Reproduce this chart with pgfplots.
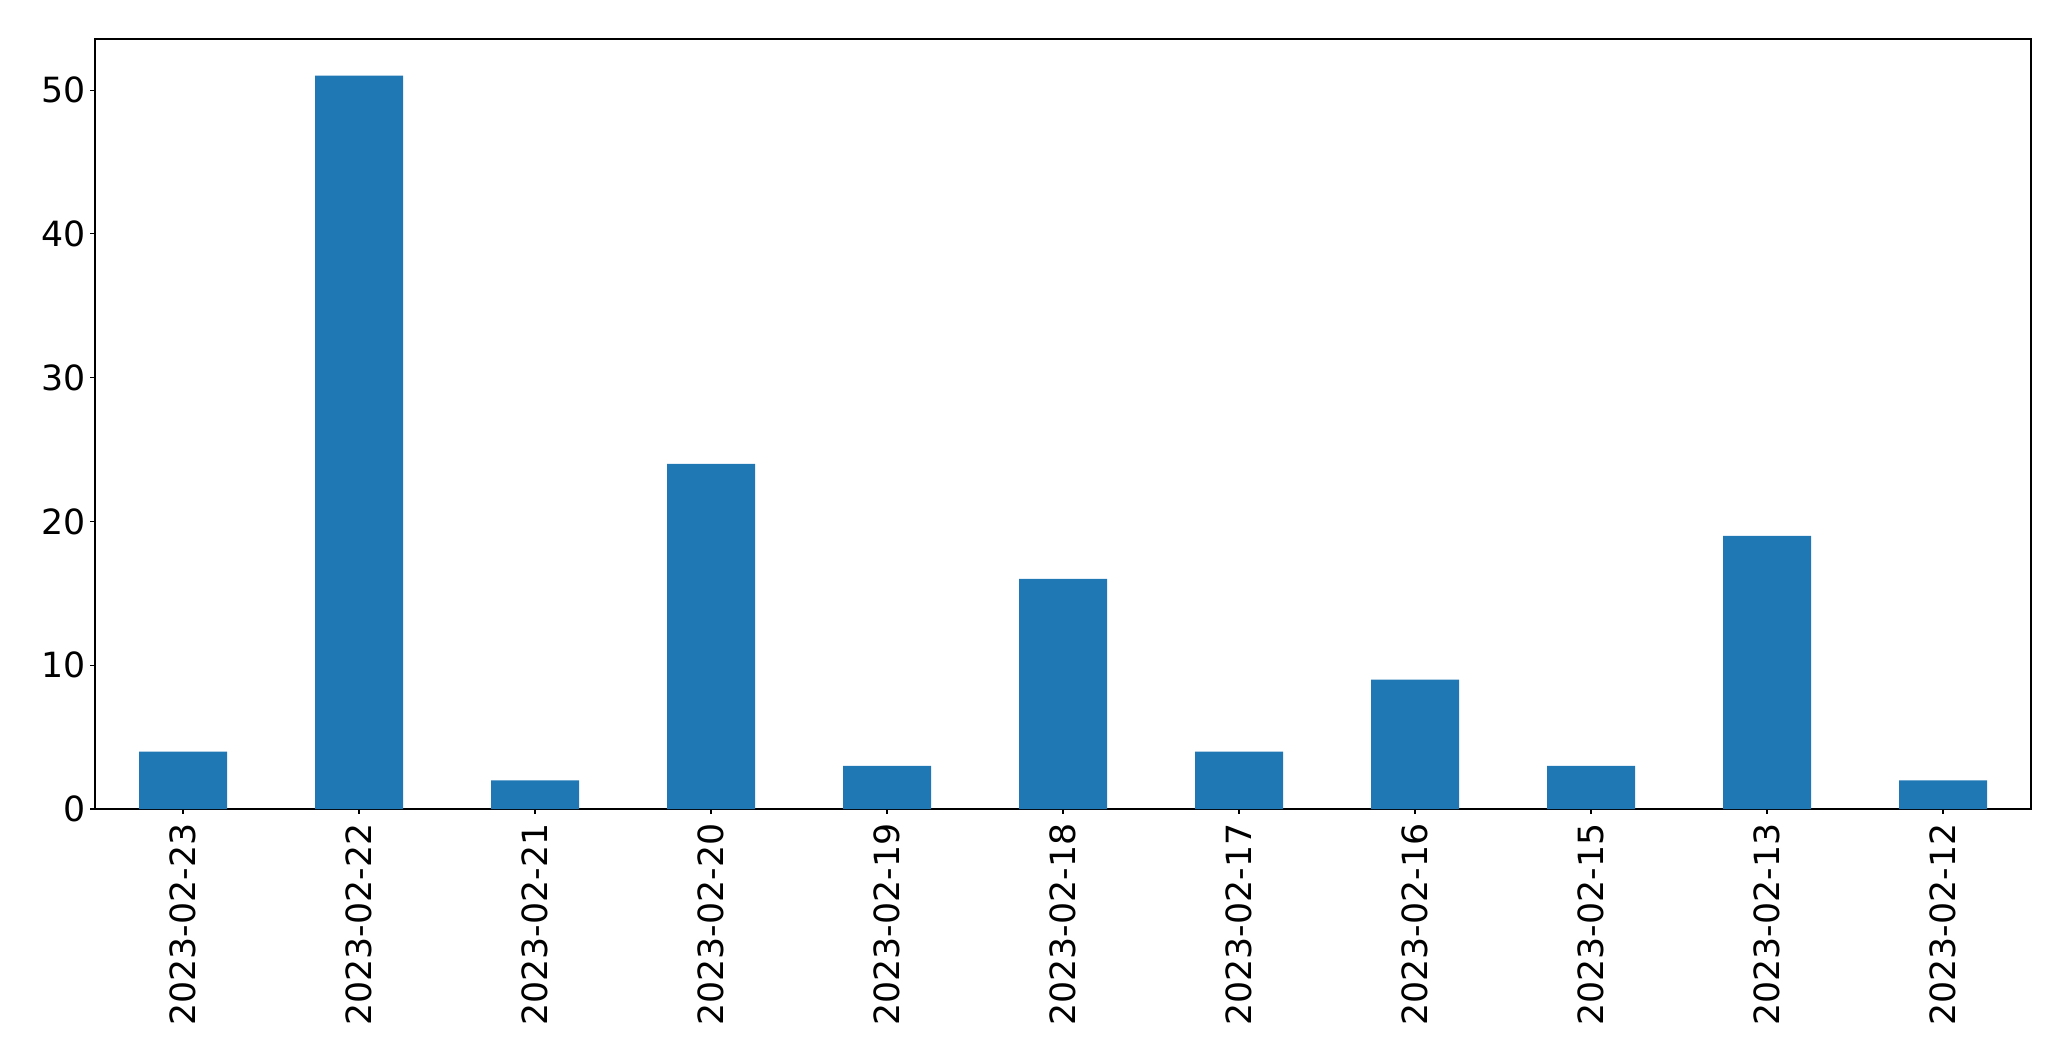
\documentclass[border=0pt]{standalone}
\usepackage{fontspec}
\setmainfont{DejaVu Sans}
\usepackage{pgfplots}
\pgfplotsset{compat=1.18}
\definecolor{mplblue}{HTML}{1F77B4}

\begin{document}
\begin{tikzpicture}
\begin{axis}[
    at={(0,0)}, anchor=south west,
    scale only axis,
    width=1393.9pt, height=554.4pt,
    xmin=-0.5, xmax=10.5,
    ymin=0, ymax=53.55,
    xtick={0,...,10},
    xticklabels={2023-02-23,2023-02-22,2023-02-21,2023-02-20,2023-02-19,2023-02-18,2023-02-17,2023-02-16,2023-02-15,2023-02-13,2023-02-12},
    ytick={0,10,20,30,40,50},
    tick align=outside,
    major tick length=3.5pt,
    xtick pos=bottom, ytick pos=left,
    axis line style={line width=0.8pt},
    tick style={line width=0.8pt, black},
    /pgf/number format/assume math mode=true,
    ticklabel style={font=\fontsize{25}{30}\selectfont},
    x tick label style={yshift=-3.5pt, rotate=90, anchor=east},
]
\addplot[ybar, bar width=0.5, fill=mplblue, draw=none] coordinates {
    (0,4) (1,51) (2,2) (3,24) (4,3) (5,16) (6,4) (7,9) (8,3) (9,19) (10,2)
};
\end{axis}
\path[use as bounding box] (-68.4pt,-181.4pt) rectangle (1422.7pt,582.5pt);
\end{tikzpicture}
\end{document}
